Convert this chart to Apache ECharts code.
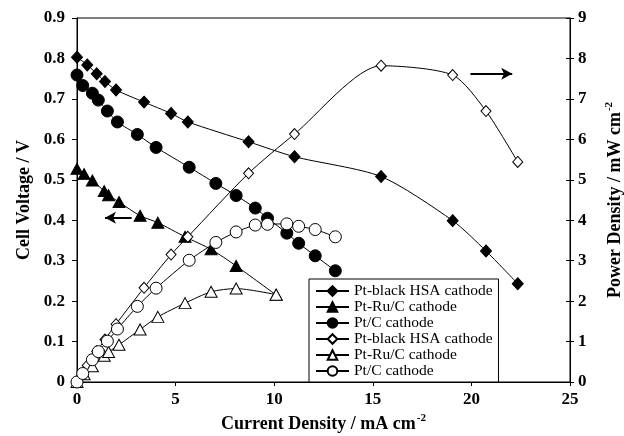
<!DOCTYPE html>
<html>
<head>
<meta charset="utf-8">
<script src="https://cdn.jsdelivr.net/npm/echarts@6/dist/echarts.min.js"></script>
<style>
  html, body { margin: 0; padding: 0; background: #fff; }
  #chart { width: 624px; height: 436px; }
</style>
</head>
<body>
<div id="chart"></div>
<script>
// Current density (mA cm-2), cell voltage (V) and power density (mW cm-2)
var ptBlackI = [0, 0.52, 1.0, 1.42, 1.98, 3.4, 4.77, 5.62, 8.70, 11.03, 15.42, 19.05, 20.74, 22.35];
var ptBlackV = [0.803, 0.784, 0.762, 0.743, 0.722, 0.692, 0.664, 0.643, 0.594, 0.557, 0.508, 0.399, 0.324, 0.243];
var ptBlackP = [0, 0.41, 0.76, 1.05, 1.43, 2.33, 3.15, 3.59, 5.16, 6.13, 7.82, 7.59, 6.70, 5.44];

var ptRuI = [0, 0.36, 0.78, 1.38, 1.6, 2.13, 3.2, 4.1, 5.48, 6.8, 8.07, 10.1];
var ptRuV = [0.527, 0.514, 0.498, 0.472, 0.462, 0.445, 0.411, 0.394, 0.359, 0.328, 0.287, 0.215];
var ptRuP = [0, 0.19, 0.39, 0.65, 0.74, 0.92, 1.30, 1.61, 1.95, 2.23, 2.31, 2.16];

var ptCI = [0, 0.29, 0.78, 1.08, 1.54, 2.05, 3.06, 4.01, 5.69, 7.04, 8.07, 9.04, 9.66, 10.64, 11.24, 12.08, 13.1];
var ptCV = [0.759, 0.733, 0.714, 0.697, 0.670, 0.643, 0.612, 0.580, 0.531, 0.491, 0.461, 0.430, 0.405, 0.368, 0.343, 0.312, 0.275];
var ptCP = [0, 0.21, 0.55, 0.75, 1.01, 1.31, 1.87, 2.32, 3.01, 3.45, 3.71, 3.88, 3.90, 3.91, 3.85, 3.77, 3.59];

var seriesNames = ['Pt-black HSA cathode', 'Pt-Ru/C cathode', 'Pt/C cathode'];

// Arrow annotations pointing each curve family at its axis
var voltArrow = [[1.42, 0.406], [2.77, 0.406]];
var powerArrow = [[19.95, 7.62], [22.07, 7.62]];

function pairs(xs, ys) {
  return xs.map(function (x, i) { return [x, ys[i]]; });
}

var serif = '"Liberation Serif", "DejaVu Serif", serif';

function mkSeries(name, xs, ys, symbol, size, filled, axis, extra) {
  var s = {
    name: name,
    type: 'line',
    yAxisIndex: axis,
    data: pairs(xs, ys),
    symbol: symbol,
    symbolSize: size,
    showSymbol: true,
    smooth: 0.25,
    lineStyle: { color: '#000', width: 1 },
    itemStyle: filled
      ? { color: '#000', borderColor: '#000', borderWidth: 1 }
      : { color: '#fff', borderColor: '#000', borderWidth: 1 },
    emphasis: { disabled: true },
    animation: false
  };
  if (extra) { for (var k in extra) s[k] = extra[k]; }
  return s;
}

function arrowLine(pts, symbols) {
  return {
    silent: true,
    symbol: symbols,
    symbolSize: [9, 11],
    label: { show: false },
    lineStyle: { color: '#000', width: 2, type: 'solid' },
    data: [[{ coord: pts[0] }, { coord: pts[1] }]]
  };
}

var supTitle = {
  m: { fontFamily: serif, fontWeight: 'bold', fontSize: 18, color: '#000', lineHeight: 22 },
  s: { fontFamily: serif, fontWeight: 'bold', fontSize: 11, color: '#000', lineHeight: 22, verticalAlign: 'top', padding: [0, 0, 10, 1] }
};

var chart = echarts.init(document.getElementById('chart'), null, { renderer: 'canvas' });

chart.setOption({
  animation: false,
  backgroundColor: '#fff',
  grid: {
    left: 77, right: 54, top: 18, bottom: 54,
    outerBoundsMode: 'none',
    containLabel: false,
    show: true, borderColor: '#000', borderWidth: 1, backgroundColor: 'transparent'
  },
  legend: {
    orient: 'vertical',
    left: 309,
    bottom: 54,
    padding: [4, 2, 3, 6],
    itemGap: 0,
    itemWidth: 33,
    itemHeight: 12,
    backgroundColor: '#fff',
    borderColor: '#000',
    borderWidth: 1,
    borderRadius: 0,
    textStyle: {
      fontFamily: serif, fontSize: 15.5, color: '#000',
      rich: { t: { fontFamily: serif, fontSize: 15.5, color: '#000', lineHeight: 16.6 } }
    },
    formatter: function (name) { return '{t|' + name + '}'; },
    data: [
      { name: seriesNames[0] + ' ' },
      { name: seriesNames[1] + ' ' },
      { name: seriesNames[2] + ' ' },
      { name: seriesNames[0] },
      { name: seriesNames[1] },
      { name: seriesNames[2] }
    ],
    selectedMode: false
  },
  xAxis: {
    type: 'value',
    min: 0, max: 25, interval: 5,
    name: '{m|Current Density / mA cm}{s|-2}',
    nameLocation: 'middle',
    nameGap: 24,
    nameTextStyle: { rich: supTitle },
    axisLine: { lineStyle: { color: '#000', width: 1 } },
    axisTick: { inside: false, length: 4, lineStyle: { color: '#000' } },
    axisLabel: { fontFamily: serif, fontWeight: 'bold', fontSize: 17, color: '#000', margin: 9 },
    splitLine: { show: false }
  },
  yAxis: [
    {
      type: 'value',
      position: 'left',
      min: 0, max: 0.9, interval: 0.1,
      name: 'Cell Voltage / V',
      nameLocation: 'middle',
      nameGap: 43,
      nameRotate: 90,
      nameTextStyle: { fontFamily: serif, fontWeight: 'bold', fontSize: 18, color: '#000' },
      axisLine: { show: true, lineStyle: { color: '#000', width: 1 } },
      axisTick: { inside: false, length: 5, lineStyle: { color: '#000' } },
      axisLabel: {
        fontFamily: serif, fontWeight: 'bold', fontSize: 17, color: '#000', margin: 12,
        formatter: function (v) { return v === 0 ? '0' : v.toFixed(1); }
      },
      splitLine: { show: false }
    },
    {
      type: 'value',
      position: 'right',
      min: 0, max: 9, interval: 1,
      name: '{m|Power Density / mW cm}{s|-2}',
      nameLocation: 'middle',
      nameGap: 34,
      nameRotate: 90,
      nameTextStyle: { rich: supTitle },
      axisLine: { show: true, lineStyle: { color: '#000', width: 1 } },
      axisTick: { inside: false, length: 4, lineStyle: { color: '#000' } },
      axisLabel: { fontFamily: serif, fontWeight: 'bold', fontSize: 17, color: '#000', margin: 8 },
      splitLine: { show: false }
    },
    {
      // inner half of the right-hand ticks, so they cross the axis line
      type: 'value',
      position: 'right',
      min: 0, max: 9, interval: 1,
      axisLine: { show: false },
      axisTick: { show: true, inside: true, length: 4, lineStyle: { color: '#000' } },
      axisLabel: { show: false },
      splitLine: { show: false }
    }
  ],
  series: [
    mkSeries(seriesNames[0] + ' ', ptBlackI, ptBlackV, 'diamond', [11, 12], true, 0),
    mkSeries(seriesNames[1] + ' ', ptRuI, ptRuV, 'triangle', [12, 11], true, 0, {
      markLine: arrowLine(voltArrow, ['arrow', 'none'])
    }),
    mkSeries(seriesNames[2] + ' ', ptCI, ptCV, 'circle', 12, true, 0),
    mkSeries(seriesNames[0], ptBlackI, ptBlackP, 'diamond', [10, 11], false, 1, {
      markLine: arrowLine(powerArrow, ['none', 'arrow'])
    }),
    mkSeries(seriesNames[1], ptRuI, ptRuP, 'triangle', [12, 11], false, 1),
    mkSeries(seriesNames[2], ptCI, ptCP, 'circle', 12, false, 1)
  ]
});
</script>
</body>
</html>
